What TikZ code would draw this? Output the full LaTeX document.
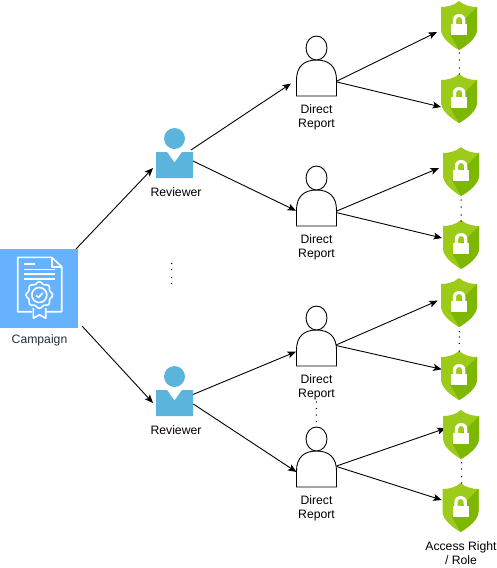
\documentclass[tikz,border=0pt]{standalone}
\usepackage{fontspec}
\setmainfont{Liberation Sans}
\usetikzlibrary{arrows.meta,calc}
\definecolor{campblue}{HTML}{66B2FF}
\definecolor{revblue}{HTML}{5AB4DC}
\definecolor{shlight}{HTML}{9CCB19}
\definecolor{shdark}{HTML}{7DB700}
\definecolor{camptext}{HTML}{232F3E}
\tikzset{
  iconbox/.style={inner sep=0pt,outer sep=0pt},
  conn/.style={black,line width=0.9pt,-{Stealth[length=8.5pt,width=7pt,inset=2pt]}},
  lbl/.style={inner sep=0pt,align=center,font=\fontsize{12.2}{14}\selectfont},
  pics/shield/.style={code={
    \path[fill=shlight] (0,-24.5) .. controls (5,-20) and (12,-18.5) .. (18,-18.5) -- (18,4)
      .. controls (18,12) and (8,20) .. (0,24.5) .. controls (-8,20) and (-18,12) .. (-18,4)
      -- (-18,-18.5) .. controls (-12,-18.5) and (-5,-20) .. (0,-24.5) -- cycle;
    \path[fill=shdark] (18,-18.5) -- (18,4) .. controls (18,12) and (8,20) .. (0,24.5)
      -- (-9,8.5) -- cycle;
    \path[fill=white] (-8,-1.5) rectangle (8.3,9.3);
    \path[fill=white,even odd rule] (-6.2,-1) -- (-6.2,-5.5) .. controls (-6.2,-13.5) and (6.4,-13.5) .. (6.4,-5.5) -- (6.4,-1) -- cycle
      (-3,-1) -- (-3,-5.5) .. controls (-3,-9.5) and (3.2,-9.5) .. (3.2,-5.5) -- (3.2,-1) -- cycle;
  }},
  pics/person/.style={code={
    \draw[black,fill=white,line width=0.9pt] (-20,30) -- (-20,14) .. controls (-20,1) and (-13,-6) .. (0,-6)
      .. controls (13,-6) and (20,1) .. (20,14) -- (20,30) -- cycle;
    \draw[black,fill=white,line width=0.9pt] (0,-18) ellipse[x radius=10.5,y radius=12];
  }},
  pics/reviewer/.style={code={
    \path[fill=revblue] (0,-14) circle[radius=10.5];
    \path[fill=revblue] (-18.5,-0.5) -- (-7.5,-0.5) -- (0,10) -- (7.5,-0.5) -- (18.5,-0.5)
      -- (18.5,25.5) -- (-18.5,25.5) -- cycle;
  }},
  pics/campaign/.style={code={
    \path[fill=campblue] (-39,-39.5) rectangle (39,39.5);
    \begin{scope}[white,line width=1.6pt,line join=round]
      \draw (-6.7,23.2) -- (-21.3,23.2) -- (-21.3,-31.2) -- (12.7,-31.2) -- (22.7,-21.8) -- (22.7,23.2) -- (7.7,23.2);
      \draw (12.7,-31.2) -- (12.7,-21.8) -- (22.7,-21.8);
      \draw (-15,-24.5) -- (-4,-24.5);
      \draw (-15,-19.2) -- (16,-19.2);
      \draw (-15,-14.5) -- (16,-14.5);
      \draw (-15,-9.8) -- (16,-9.8);
      \draw plot[smooth cycle,samples=40,domain=0:351] ({0.3+12.3*(1+0.09*cos(8*\x))*cos(\x)},{6.5+12.3*(1+0.09*cos(8*\x))*sin(\x)});
      \draw (0.3,6.5) circle[radius=7.5];
      \draw (-3,7) -- (-0.5,9) -- (3.8,4.3);
      \draw (-5.7,19.5) -- (-5.7,29.8) -- (0.5,26.3) -- (6.7,29.8) -- (6.7,19.5);
    \end{scope}
  }},
}
\begin{document}
\begin{tikzpicture}[x=1pt,y=-1pt]
\useasboundingbox (0,0) rectangle (497,568);

% icon nodes
\node[iconbox,minimum width=78pt,minimum height=79pt] (c) at (39,288.5) {};
\node[iconbox,minimum width=37pt,minimum height=51pt] (r1) at (174.5,152.5) {};
\node[iconbox,minimum width=37pt,minimum height=51pt] (r2) at (174.5,390.5) {};
\foreach \n/\y in {p1/66,p2/196,p3/336,p4/457} {
  \node[iconbox,minimum width=41pt,minimum height=60pt] (\n) at (316.5,\y) {};
}
\foreach \n/\x/\y in {s1/459/25.5,s2/459/98.5,s3/461/171.5,s4/461/244.5,s5/459/302.5,s6/459/375.5,s7/461/434.5,s8/460.5/507.5} {
  \node[iconbox,minimum width=36pt,minimum height=49pt] (\n) at (\x,\y) {};
}

% connectors
\draw[conn] ($(c)+(37,-39.5)$) -- ($(r1)+(-21.5,15.5)$);
\draw[conn] ($(c)+(43,37.5)$) -- ($(r2)+(-21.5,12.5)$);
\draw[conn] ($(r1)+(16.5,-2.5)$) -- ($(p1)+(-25.5,17.5)$);
\draw[conn] ($(r1)+(18.5,8.5)$) -- ($(p2)+(-20.5,14.7)$);
\draw[conn] ($(r2)+(17.2,4.5)$) -- ($(p3)+(-20.5,15.7)$);
\draw[conn] ($(r2)+(18.8,13.5)$) -- ($(p4)+(-20,15)$);
\draw[conn] ($(p1)+(19.2,15.7)$) -- ($(s1)+(-22,6.5)$);
\draw[conn] ($(p1)+(19.2,15.7)$) -- ($(s2)+(-18,8.5)$);
\draw[conn] ($(p2)+(20.3,15)$) -- ($(s3)+(-22,-3.5)$);
\draw[conn] ($(p2)+(20.5,16.7)$) -- ($(s4)+(-19,-6.5)$);
\draw[conn] ($(p3)+(19.5,9)$) -- ($(s5)+(-21.3,-1.8)$);
\draw[conn] ($(p3)+(19.5,9.5)$) -- ($(s6)+(-17.3,-6.2)$);
\draw[conn] ($(p4)+(20,9)$) -- ($(s7)+(-15.3,-6.2)$);
\draw[conn] ($(p4)+(20,9.5)$) -- ($(s8)+(-18.8,-7.5)$);

% icons
\pic at (c) {campaign};
\pic at (r1) {reviewer};
\pic at (r2) {reviewer};
\foreach \n in {p1,p2,p3,p4} { \pic at (\n) {person}; }
\foreach \n in {s1,s2,s3,s4,s5,s6,s7,s8} { \pic at (\n) {shield}; }

% ellipsis dots
\foreach \x/\y in {171.7/263.5,171.7/269.5,171.7/277.5,171.7/283.5,
  316.3/402,316.3/408.5,316.3/415,316.3/421.5,
  459.3/53,459.3/60,459.3/68,459.3/74,
  461/200,461/207,461/215,461/221,
  459.3/331.7,459.3/337,459.3/343.3,459.3/351,
  461.7/462.7,461.7/469,461.7/476.7,461.7/483} {
  \fill[black] (\x,\y) circle[radius=0.75];
}

% labels
\node[lbl,text=camptext] (lc) at (39.5,340.5) {Campaign};
\node[lbl] (l1) at (176,192) {Reviewer};
\node[lbl] (l2) at (176,430) {Reviewer};
\node[lbl] (l3) at (316.5,117) {Direct\\Report};
\node[lbl] (l4) at (316.5,247) {Direct\\Report};
\node[lbl] (l5) at (316.5,387) {Direct\\Report};
\node[lbl] (l6) at (316.5,508) {Direct\\Report};
\node[lbl] (l7) at (461,553) {Access Right\\/ Role};
\end{tikzpicture}
\end{document}
